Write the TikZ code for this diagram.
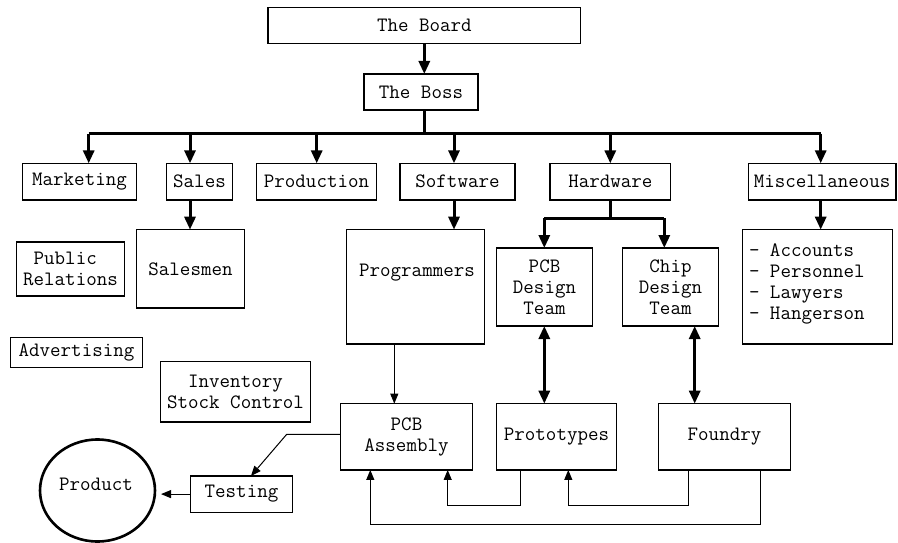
\documentclass[tikz,border=0pt]{standalone}
\usepackage{fontspec}
\usetikzlibrary{arrows.meta,shapes.geometric}
\begin{document}
\begin{tikzpicture}[x=1pt,y=-1pt,
  every node/.style={font=\ttfamily\fontsize{20.4}{21}\selectfont, inner sep=0pt, outer sep=0pt},
  box/.style={draw, line width=1.2pt, align=center, minimum width=#1},
  txt/.style={align=center},
  bigline/.style={line width=3pt},
  bigarrow/.style={line width=3pt, -{Triangle[length=13pt,width=11pt]}},
  bigdouble/.style={line width=3pt, {Triangle[length=13pt,width=11pt]}-{Triangle[length=13pt,width=11pt]}},
  thinarrow/.style={line width=1pt, -{Triangle[length=10pt,width=8pt]}}
]
\useasboundingbox (0,0) rectangle (898,543);

% top
\node[box=312.7pt, minimum height=36.2pt] (board) at (424.3,25.6) {The Board};
\node[box=114pt, minimum height=36pt] (boss) at (421,92) {The Boss};

% departments
\node[box=114.4pt, minimum height=36.7pt] (mkt) at (79.5,181.7) {Marketing};
\node[box=65.6pt, minimum height=36.7pt] (sales) at (199.5,181.7) {Sales};
\node[box=120.4pt, minimum height=36.7pt] (prod) at (316.5,181.7) {Production};
\node[box=115pt, minimum height=36.7pt] (soft) at (457.5,181.7) {Software};
\node[box=120.7pt, minimum height=36.7pt] (hard) at (610.3,181.7) {Hardware};
\node[box=147.7pt, minimum height=36.7pt] (misc) at (822.1,181.7) {Miscellaneous};

% second level
\node[box=108.4pt, minimum height=78.3pt] (salesmen) at (190.5,268.8) {Salesmen};
\node[box=108.4pt, minimum height=54pt] (pr) at (70.5,269) {\hphantom{R}Public\hphantom{RR}\\Relations};
\node[box=132.4pt, minimum height=30pt] (adv) at (76.5,352.7) {Advertising};
\node[box=150.4pt, minimum height=60.3pt] (inv) at (235.5,391.8) {Inventory\\Stock Control};
\node[box=138pt, minimum height=114.3pt] (prog) at (415.7,286.8) {};
\node[txt] (progtxt) at (417,273) {Programmers};
\node[box=96.4pt, minimum height=78pt] (pcbd) at (544.5,287) {PCB\\Design\\Team};
\node[box=96.4pt, minimum height=78pt] (chip) at (670.5,287) {Chip\\Design\\Team};
\node[box=150.4pt, minimum height=114.3pt] (mlist) at (817.5,286.8) {};
\node[align=left, anchor=north west] (mlisttxt) at (749,244) {- Accounts\\- Personnel\\- Lawyers\\- Hangerson};

% bottom level
\node[box=132.4pt, minimum height=66.3pt] (pcba) at (406.5,436.8) {PCB\\Assembly};
\node[box=120.4pt, minimum height=66.3pt] (proto) at (556.5,436.8) {Prototypes};
\node[box=132.4pt, minimum height=66.3pt] (found) at (724.5,436.8) {Foundry};
\node[box=102.4pt, minimum height=36.3pt] (test) at (241.5,494.1) {Testing};
\node[draw, ellipse, line width=2.6pt, minimum width=115pt, minimum height=102pt] (product) at (97.5,490.5) {};
\node[txt] (prodtxt) at (96,484) {Product};

% coordinates
\coordinate (bus) at (424.3,133.7);
\coordinate (busL) at (88.7,133.7);
\coordinate (busR) at (820.7,133.7);
\coordinate (hbus) at (610.3,218);
\coordinate (hbusL) at (544.3,218);
\coordinate (hbusR) at (664.3,218);

% connectors
\draw[bigarrow] (board.south) -- (board.south |- boss.north);
\draw[bigline] (board.south |- boss.south) -- (bus);
\draw[bigline] (busL) -- (busR);
\draw[bigarrow] (busL) -- (busL |- mkt.north);
\draw[bigarrow] (190,133.7) -- (190,0 |- sales.north);
\draw[bigarrow] (316.7,133.7) -- (316.7,0 |- prod.north);
\draw[bigarrow] (454,133.7) -- (454,0 |- soft.north);
\draw[bigarrow] (610.3,133.7) -- (610.3,0 |- hard.north);
\draw[bigarrow] (busR) -- (busR |- misc.north);

\draw[bigarrow] (190,0 |- sales.south) -- (190,0 |- salesmen.north);
\draw[bigarrow] (454,0 |- soft.south) -- (454,0 |- prog.north);
\draw[bigarrow] (820.7,0 |- misc.south) -- (820.7,0 |- mlist.north);

\draw[bigline] (hard.south) -- (hbus);
\draw[bigline] (hbusL) -- (hbusR);
\draw[bigarrow] (hbusL) -- (hbusL |- pcbd.north);
\draw[bigarrow] (hbusR) -- (hbusR |- chip.north);

\draw[bigdouble] (544.3,0 |- pcbd.south) -- (544.3,0 |- proto.north);
\draw[bigdouble] (694.7,0 |- chip.south) -- (694.7,0 |- found.north);

\draw[thinarrow] (394.3,0 |- prog.south) -- (394.3,0 |- pcba.north);
\coordinate (bend1) at (286.7,434.3);
\draw[thinarrow] (pcba.west |- bend1) -- (bend1) -- (251,0 |- test.north);
\draw[thinarrow] (test.west) -- (161,494.1);

\draw[thinarrow] (760.7,0 |- found.south) -- (760.7,524) -- (370.3,524) -- (370.3,0 |- pcba.south);
\draw[thinarrow] (688.3,0 |- found.south) -- (688.3,505.7) -- (568.3,505.7) -- (568.3,0 |- proto.south);
\draw[thinarrow] (520,0 |- proto.south) -- (520,505.7) -- (447.7,505.7) -- (447.7,0 |- pcba.south);
\end{tikzpicture}
\end{document}
